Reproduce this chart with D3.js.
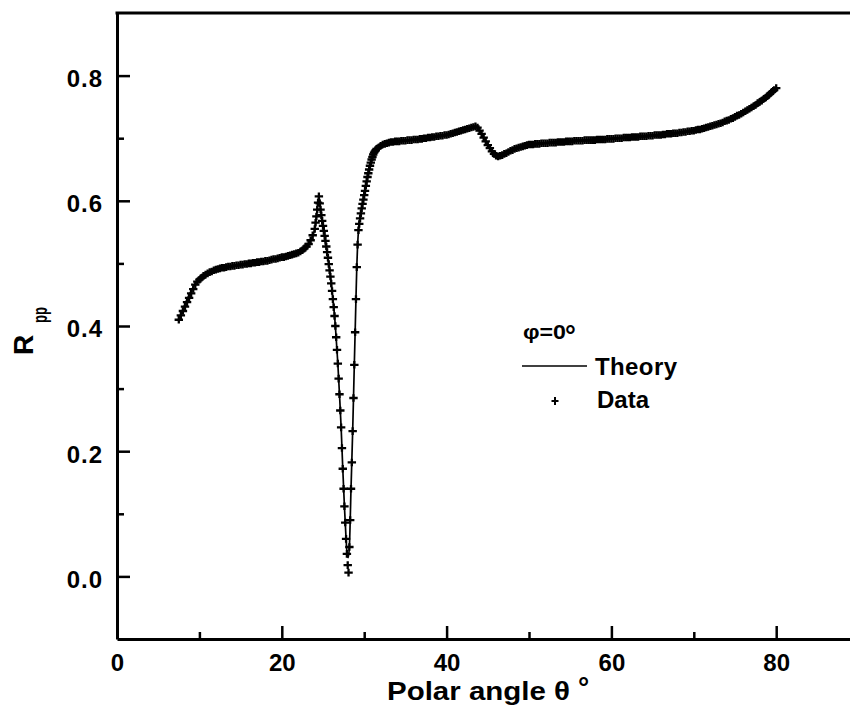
<!DOCTYPE html>
<html><head><meta charset="utf-8">
<script src="https://cdn.jsdelivr.net/npm/d3@7"></script>
<style>
body{margin:0;background:#fff}
svg{display:block}
text{font-family:"Liberation Sans",Arial,Helvetica,sans-serif;font-weight:bold;fill:#000}
</style>
</head><body>
<svg id="c" width="850" height="708"></svg>
<script>
// ---------- data ----------
const xMajorTicks = [0, 20, 40, 60, 80];
const xMinorTicks = [10, 30, 50, 70];
const yMajorTicks = [0.0, 0.2, 0.4, 0.6, 0.8];
const yMinorTicks = [0.1, 0.3, 0.5, 0.7];

// measured data, [theta, Rpp]
const riseData = [
[7.5,0.410],[7.75,0.417],[8.0,0.424],[8.25,0.431],[8.5,0.438],[8.75,0.445],[9.0,0.452],[9.25,0.459],[9.5,0.466],[9.75,0.471],
[10.0,0.474],[10.25,0.477],[10.5,0.480],[10.75,0.482],[11.0,0.484],[11.25,0.486],[11.5,0.487],[11.75,0.489],
[12.0,0.490],[12.25,0.491],[12.5,0.492],[12.75,0.493],[13.0,0.493],[13.25,0.494],[13.5,0.495],[13.75,0.495],
[14.0,0.496],[14.25,0.496],[14.5,0.497],[14.75,0.497],[15.0,0.498],[15.25,0.498],[15.5,0.499],[15.75,0.499],
[16.0,0.500],[16.25,0.500],[16.5,0.501],[16.75,0.501],[17.0,0.502],[17.25,0.502],[17.5,0.503],[17.75,0.503],
[18.0,0.504],[18.25,0.504],[18.5,0.505],[18.75,0.506],[19.0,0.507],[19.25,0.507],[19.5,0.508],[19.75,0.509],
[20.0,0.510],[20.25,0.510],[20.5,0.511],[20.75,0.512],[21.0,0.513],[21.25,0.514],[21.5,0.515],[21.75,0.516],
[22.0,0.517],[22.25,0.519],[22.5,0.521],[22.75,0.524],[23.0,0.527],[23.25,0.531],[23.5,0.537],[23.75,0.545]
];
const dipData = [
[24.0,0.555],[24.1,0.565],[24.2,0.575],[24.3,0.586],[24.4,0.597],[24.5,0.607],
[24.6,0.596],[24.7,0.586],[24.8,0.577],[24.9,0.568],[25.0,0.560],[25.1,0.552],[25.2,0.544],[25.3,0.536],
[25.4,0.527],[25.5,0.518],[25.6,0.509],[25.7,0.499],[25.8,0.489],[25.9,0.479],[26.0,0.468],[26.1,0.456],
[26.2,0.443],[26.3,0.430],[26.4,0.416],[26.5,0.400],[26.6,0.382],[26.7,0.362],[26.8,0.340],[26.9,0.316],
[27.0,0.291],[27.1,0.265],[27.2,0.238],[27.3,0.205],[27.4,0.172],[27.5,0.140],[27.6,0.112],[27.7,0.086],
[27.8,0.060],[27.9,0.036],[28.0,0.018],[28.1,0.006],
[28.2,0.047],[28.3,0.090],[28.4,0.140],[28.5,0.182],[28.6,0.232],[28.7,0.285],[28.8,0.338],[28.9,0.390],
[29.0,0.443],[29.1,0.494],[29.2,0.530],[29.3,0.553],[29.4,0.563],[29.5,0.572],[29.6,0.580],[29.7,0.588],
[29.8,0.595],[29.9,0.602],[30.0,0.609],[30.1,0.616],[30.2,0.624],[30.3,0.631],[30.4,0.638],[30.5,0.644],
[30.6,0.650],[30.7,0.656],[30.8,0.661],[30.9,0.666],[31.0,0.670],[31.1,0.674],[31.2,0.677],[31.3,0.679],[31.4,0.681]
];
const plateauData = [
[31.5,0.683],[31.75,0.685],[32.0,0.688],[32.25,0.690],[32.5,0.691],[32.75,0.692],[33.0,0.693],[33.25,0.694],
[33.5,0.694],[33.75,0.695],[34.0,0.695],[34.25,0.695],[34.5,0.696],[34.75,0.696],[35.0,0.696],[35.25,0.697],
[35.5,0.697],[35.75,0.697],[36.0,0.698],[36.25,0.698],[36.5,0.698],[36.75,0.699],[37.0,0.699],[37.25,0.700],
[37.5,0.700],[37.75,0.701],[38.0,0.701],[38.25,0.702],[38.5,0.702],[38.75,0.703],[39.0,0.703],[39.25,0.704],
[39.5,0.704],[39.75,0.705],[40.0,0.705],[40.25,0.706],[40.5,0.707],[40.75,0.708],[41.0,0.709],[41.25,0.710],
[41.5,0.711],[41.75,0.712],[42.0,0.713],[42.25,0.714],[42.5,0.715],[42.75,0.716],[43.0,0.717],[43.25,0.718],
[43.5,0.719],[43.75,0.717],[44.0,0.712],[44.25,0.707],[44.5,0.701],[44.75,0.695],[45.0,0.689],[45.25,0.684],
[45.5,0.679],[45.75,0.675],[46.0,0.672],[46.25,0.671],[46.5,0.672],[46.75,0.673],[47.0,0.675],[47.25,0.676],
[47.5,0.678],[47.75,0.680],[48.0,0.681],[48.25,0.683],[48.5,0.684],[48.75,0.685],[49.0,0.686],[49.25,0.687],
[49.5,0.688],[49.75,0.689],[50.0,0.690]
];
const tailData = [
[50.25,0.690],[50.5,0.690],[50.75,0.691],[51.0,0.691],[51.25,0.691],[51.5,0.692],[51.75,0.692],[52.0,0.692],
[52.25,0.692],[52.5,0.693],[52.75,0.693],[53.0,0.693],[53.25,0.693],[53.5,0.694],[53.75,0.694],[54.0,0.694],
[54.25,0.694],[54.5,0.695],[54.75,0.695],[55.0,0.695],[55.25,0.695],[55.5,0.696],[55.75,0.696],[56.0,0.696],
[56.25,0.696],[56.5,0.696],[56.75,0.697],[57.0,0.697],[57.25,0.697],[57.5,0.697],[57.75,0.697],[58.0,0.697],
[58.25,0.698],[58.5,0.698],[58.75,0.698],[59.0,0.698],[59.25,0.698],[59.5,0.699],[59.75,0.699],[60.0,0.699],
[60.25,0.699],[60.5,0.700],[60.75,0.700],[61.0,0.700],[61.25,0.700],[61.5,0.701],[61.75,0.701],[62.0,0.701],
[62.25,0.701],[62.5,0.702],[62.75,0.702],[63.0,0.702],[63.25,0.702],[63.5,0.703],[63.75,0.703],[64.0,0.703],
[64.25,0.703],[64.5,0.704],[64.75,0.704],[65.0,0.704],[65.25,0.705],[65.5,0.705],[65.75,0.705],[66.0,0.705],
[66.25,0.706],[66.5,0.706],[66.75,0.707],[67.0,0.707],[67.25,0.707],[67.5,0.708],[67.75,0.708],[68.0,0.708],
[68.25,0.709],[68.5,0.709],[68.75,0.710],[69.0,0.710],[69.25,0.711],[69.5,0.711],[69.75,0.712],[70.0,0.712],
[70.25,0.713],[70.5,0.714],[70.75,0.714],[71.0,0.715],[71.25,0.716],[71.5,0.717],[71.75,0.718],[72.0,0.719],
[72.25,0.720],[72.5,0.721],[72.75,0.722],[73.0,0.723],[73.25,0.724],[73.5,0.725],[73.75,0.727],[74.0,0.728],
[74.25,0.729],[74.5,0.731],[74.75,0.732],[75.0,0.734],[75.25,0.736],[75.5,0.737],[75.75,0.739],[76.0,0.741],
[76.25,0.743],[76.5,0.745],[76.75,0.747],[77.0,0.749],[77.25,0.751],[77.5,0.753],[77.75,0.756],[78.0,0.758],
[78.25,0.760],[78.5,0.763],[78.75,0.765],[79.0,0.768],[79.25,0.771],[79.5,0.774],[79.75,0.777],[80.0,0.780]
];
// theory curve knots, [theta, Rpp]
const theoryData = [
[7.5,0.410],[9.6,0.469],[10,0.474],[11,0.484],[12,0.490],[14,0.496],[16,0.500],[18,0.504],[20,0.510],
[21,0.513],[22,0.517],[22.5,0.521],[23,0.527],[23.5,0.537],[24,0.555],[24.25,0.581],[24.5,0.607],
[24.75,0.582],[25,0.560],[25.5,0.518],[26,0.468],[26.5,0.400],[26.8,0.340],[27,0.291],[27.2,0.238],
[27.4,0.172],[27.6,0.112],[27.8,0.060],[27.9,0.040],[28.05,0.030],[28.2,0.047],[28.4,0.140],[28.6,0.232],
[28.8,0.338],[29,0.443],[29.1,0.494],[29.2,0.530],[29.4,0.563],[29.7,0.588],[30,0.609],[30.5,0.644],
[31,0.670],[31.5,0.683],[32,0.688],[33,0.693],[35,0.696],[37,0.699],[40,0.705],[42,0.713],[43.5,0.719],
[44,0.712],[45,0.689],[46,0.672],[46.5,0.672],[47,0.675],[48,0.681],[50,0.690],[54,0.694],[58,0.697],
[62,0.701],[66,0.705],[70,0.712],[72,0.719],[74,0.728],[76,0.741],[78,0.758],[80,0.780]
];
const legendTitle = "φ=0";
const legendLabels = ["Theory", "Data"];

// ---------- drawing ----------
const W = 850, H = 708;
const svg = d3.select('#c');
svg.append('rect').attr('width', W).attr('height', H).attr('fill', '#fff');

const x = d3.scaleLinear().domain([0, 90]).range([117, 858.6]);
const y = d3.scaleLinear().domain([-0.1, 0.9]).range([639, 13]);

// axes
svg.append('g').attr('transform', `translate(0,${y(-0.1)})`)
  .call(d3.axisBottom(x).tickValues(xMajorTicks).tickFormat(d => d)
    .tickSizeInner(-13).tickSizeOuter(0).tickPadding(15));
svg.append('g').attr('transform', `translate(0,${y(-0.1)})`)
  .call(d3.axisBottom(x).tickValues(xMinorTicks).tickFormat('')
    .tickSizeInner(-7).tickSizeOuter(0))
  .call(g => g.select('.domain').remove());

const gy = svg.append('g').attr('transform', `translate(${x(0)},0)`)
  .call(d3.axisLeft(y).tickValues(yMajorTicks).tickFormat(d3.format('.1f'))
    .tickSizeInner(-13).tickSizeOuter(0).tickPadding(14));
svg.append('g').attr('transform', `translate(${x(0)},0)`)
  .call(d3.axisLeft(y).tickValues(yMinorTicks).tickFormat('')
    .tickSizeInner(-7).tickSizeOuter(0))
  .call(g => g.select('.domain').remove());

svg.selectAll('.domain').attr('stroke', '#000').attr('stroke-width', 3);
svg.selectAll('.tick line').attr('stroke', '#000').attr('stroke-width', 2.5);
svg.selectAll('.tick text').attr('font-size', 24).attr('font-family', '"Liberation Sans",Arial,sans-serif')
  .attr('font-weight', 'bold').attr('fill', '#000');
gy.selectAll('.tick text').attr('dy', '0.45em').attr('letter-spacing', 1);

// top frame line
svg.append('line').attr('x1', x(0) - 1.5).attr('x2', x(90)).attr('y1', y(0.9)).attr('y2', y(0.9))
  .attr('stroke', '#000').attr('stroke-width', 3);

// theory line
const line = d3.line().x(d => x(d[0])).y(d => y(d[1])).curve(d3.curveMonotoneX);
svg.append('path').datum(theoryData).attr('d', line)
  .attr('fill', 'none').attr('stroke', '#000').attr('stroke-width', 1.7);

// data markers
const plus = 'M-4.2,0H4.2M0,-3.8V3.8';
const allData = [].concat(riseData, dipData, plateauData, tailData);
svg.append('g').selectAll('path').data(allData).join('path')
  .attr('d', plus)
  .attr('transform', d => `translate(${x(d[0])},${y(d[1])})`)
  .attr('stroke', '#000').attr('stroke-width', 2.3).attr('fill', 'none');

// axis titles
svg.append('text').attr('x', 387).attr('y', 700).attr('font-size', 25)
  .attr('textLength', 183).attr('lengthAdjust', 'spacingAndGlyphs').text('Polar angle θ');
svg.append('text').attr('x', 578).attr('y', 697).attr('font-size', 28).attr('font-weight', 'normal').text('°');

svg.append('text').attr('transform', 'translate(33,355) rotate(-90)').attr('font-size', 28).text('R');
svg.append('text').attr('transform', 'translate(47,323) rotate(-90)').attr('font-size', 20)
  .attr('textLength', 16).attr('lengthAdjust', 'spacingAndGlyphs').text('pp');

// legend
const lg = svg.append('g');
lg.append('text').attr('x', 523).attr('y', 339).attr('font-size', 21)
  .attr('textLength', 43).attr('lengthAdjust', 'spacingAndGlyphs').text(legendTitle);
lg.append('text').attr('x', 565).attr('y', 345).attr('font-size', 27).text('°');
lg.append('line').attr('x1', 522).attr('x2', 587).attr('y1', 366).attr('y2', 366)
  .attr('stroke', '#000').attr('stroke-width', 1.4);
lg.append('text').attr('x', 595).attr('y', 375).attr('font-size', 24).attr('letter-spacing', 0.4).text(legendLabels[0]);
lg.append('path').attr('d', 'M-3.5,0H3.5M0,-4V4').attr('transform', 'translate(555,401)')
  .attr('stroke', '#000').attr('stroke-width', 2).attr('fill', 'none');
lg.append('text').attr('x', 597).attr('y', 408).attr('font-size', 24).text(legendLabels[1]);
</script>
</body></html>
